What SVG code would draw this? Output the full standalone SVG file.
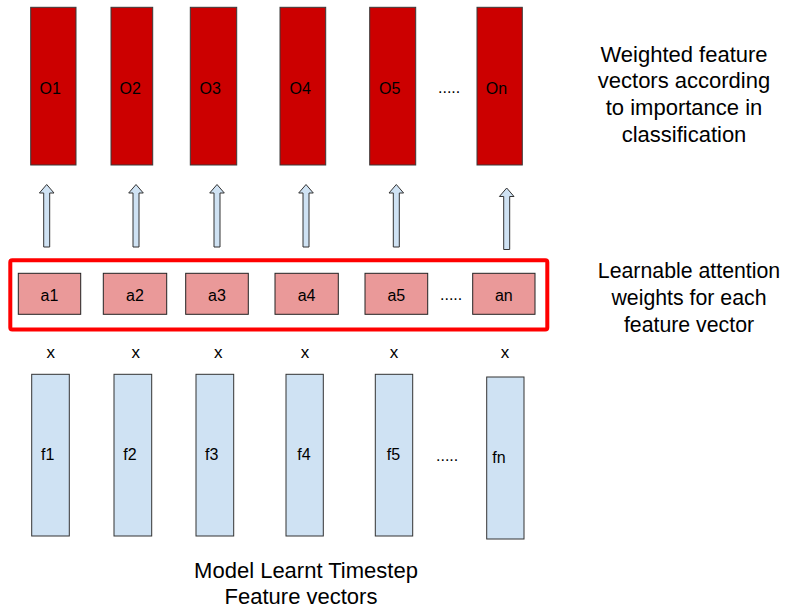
<svg xmlns="http://www.w3.org/2000/svg" width="791" height="608" viewBox="0 0 791 608">
<style>
text{font-family:"Liberation Sans",Arial,sans-serif;fill:#000;}
.lbl{font-size:16px;}
.xl{font-size:17px;text-anchor:middle;}
.big{font-size:22px;text-anchor:middle;}
.mid{text-anchor:middle;}
.o{fill:#cc0000;stroke:#3a3a3a;stroke-width:1;}
.a{fill:#ea9999;stroke:#222;stroke-width:1;}
.f{fill:#cfe2f3;stroke:#333;stroke-width:1;}
.arr{fill:#cfe2f3;stroke:#333;stroke-width:1;stroke-linejoin:miter;}
.frame{fill:none;stroke:#ff0000;stroke-width:4;}
</style>
<rect width="791" height="608" fill="#fff"/>

<g id="outputs">
<g id="O1"><rect class="o" x="30.7" y="7.3" width="45.3" height="157.7"/><text class="lbl" x="39.5" y="94">O1</text></g>
<g id="O2"><rect class="o" x="111" y="7.3" width="41.7" height="157.7"/><text class="lbl" x="119.5" y="94">O2</text></g>
<g id="O3"><rect class="o" x="190.3" y="7.3" width="46.4" height="157.7"/><text class="lbl" x="199.5" y="94">O3</text></g>
<g id="O4"><rect class="o" x="280" y="7.3" width="45.7" height="157.7"/><text class="lbl" x="289.5" y="94">O4</text></g>
<g id="O5"><rect class="o" x="369.7" y="7.3" width="46" height="157.7"/><text class="lbl" x="379" y="94">O5</text></g>
<g id="On"><rect class="o" x="477" y="7.3" width="45.3" height="157.7"/><text class="lbl" x="485.7" y="94">On</text></g>
<text class="lbl" x="438" y="93">.....</text>
</g>

<g id="connectors">
<polygon class="arr" points="46.7,184.5 54,193 49.7,193 49.7,247 43.7,247 43.7,193 39.4,193"/>
<polygon class="arr" points="136,184.5 143.3,193 139,193 139,247 133,247 133,193 128.7,193"/>
<polygon class="arr" points="217,184.5 224.3,193 220,193 220,247 214,247 214,193 209.7,193"/>
<polygon class="arr" points="306,184.5 313.3,193 309,193 309,247 303,247 303,193 298.7,193"/>
<polygon class="arr" points="396.3,184.5 403.6,193 399.3,193 399.3,247 393.3,247 393.3,193 389,193"/>
<polygon class="arr" points="506.7,188 514,196.5 509.7,196.5 509.7,249.5 503.7,249.5 503.7,196.5 499.4,196.5"/>
</g>

<g id="attention">
<rect id="attention-frame" class="frame" x="10.3" y="260.3" width="537" height="69.2" rx="2"/>
<g id="a1"><rect class="a" x="18.3" y="273.3" width="62.4" height="41"/><text class="lbl mid" x="49.5" y="300.5">a1</text></g>
<g id="a2"><rect class="a" x="103.3" y="273.3" width="63.4" height="41"/><text class="lbl mid" x="135" y="300.5">a2</text></g>
<g id="a3"><rect class="a" x="185.7" y="273.3" width="62.6" height="41"/><text class="lbl mid" x="217" y="300.5">a3</text></g>
<g id="a4"><rect class="a" x="275" y="273.3" width="63.3" height="41"/><text class="lbl mid" x="306.6" y="300.5">a4</text></g>
<g id="a5"><rect class="a" x="365" y="273.3" width="62.7" height="41"/><text class="lbl mid" x="396.3" y="300.5">a5</text></g>
<g id="an"><rect class="a" x="472.7" y="273.3" width="62.3" height="41"/><text class="lbl mid" x="503.8" y="300.5">an</text></g>
<text class="lbl" x="440" y="300">.....</text>
</g>

<g id="multiply">
<text class="xl" x="50.8" y="357.5">x</text>
<text class="xl" x="135.7" y="357.5">x</text>
<text class="xl" x="218.3" y="357.5">x</text>
<text class="xl" x="305" y="357.5">x</text>
<text class="xl" x="394" y="357.5">x</text>
<text class="xl" x="505" y="357.5">x</text>
</g>

<g id="features">
<g id="f1"><rect class="f" x="31.7" y="374.3" width="37.6" height="161.7"/><text class="lbl" x="41" y="459.5">f1</text></g>
<g id="f2"><rect class="f" x="114" y="374.3" width="37.7" height="161.7"/><text class="lbl" x="123.3" y="459.5">f2</text></g>
<g id="f3"><rect class="f" x="196" y="374.3" width="37.7" height="161.7"/><text class="lbl" x="205" y="459.5">f3</text></g>
<g id="f4"><rect class="f" x="286" y="374.3" width="37.3" height="161.7"/><text class="lbl" x="297.3" y="459.5">f4</text></g>
<g id="f5"><rect class="f" x="375.3" y="374.3" width="37.4" height="161.7"/><text class="lbl" x="386.7" y="459.5">f5</text></g>
<g id="fn"><rect class="f" x="486.7" y="377" width="37.3" height="162"/><text class="lbl" x="492.3" y="463">fn</text></g>
<text class="lbl" x="436" y="461">.....</text>
</g>

<g id="label-weighted">
<text class="big" x="684" y="61.5">Weighted feature</text>
<text class="big" x="684" y="88.2">vectors according</text>
<text class="big" x="684" y="114.9">to importance in</text>
<text class="big" x="684" y="141.6">classification</text>
</g>
<g id="label-attention">
<text class="big" x="689" y="278.3" style="font-size:21.3px">Learnable attention</text>
<text class="big" x="689" y="305" style="font-size:21.3px">weights for each</text>
<text class="big" x="689" y="331.7" style="font-size:21.3px">feature vector</text>
</g>
<g id="label-features">
<text class="big" x="306" y="578.3">Model Learnt Timestep</text>
<text class="big" x="301" y="604.3">Feature vectors</text>
</g>
</svg>
